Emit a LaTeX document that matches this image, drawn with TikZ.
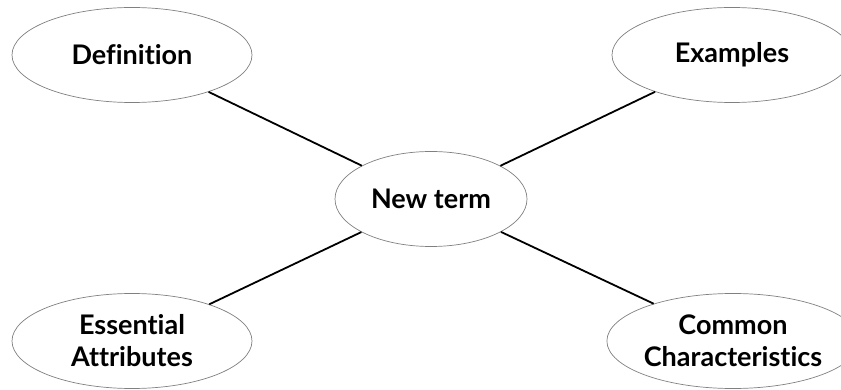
\documentclass[tikz,border=0pt]{standalone}
\usepackage{fontspec}
\setmainfont{Lato}[Ligatures={NoCommon}]
\usepackage{tikz}
\usetikzlibrary{shapes.geometric}
\tikzset{
  bubble/.style={ellipse, draw=black!50, line width=0.7pt, fill=white, inner sep=0pt,
    minimum width=240pt, minimum height=95pt, align=center,
    font=\fontsize{27}{32}\selectfont\bfseries},
  spoke/.style={line width=1.8pt, black}
}
\begin{document}
\begin{tikzpicture}[x=1pt, y=-1pt]
		%%%%% START %%%%%
		\useasboundingbox (0, 0) rectangle (841, 390);
		\clip (0, 0) rectangle (841, 390);
		
		\node[bubble, minimum width=192pt] (term) at (431, 199) {New term};
		
		\node[bubble] (definition) at (132, 55) {Definition};
		\node[bubble] (examples) at (732, 55) {Examples};
		\node[bubble] (attributes) at (132, 341) {Essential\\Attributes};
		\node[bubble] (characteristics) at (733, 341) {Common\\Characteristics};
		
		\draw[spoke] (definition) -- (term);
		\draw[spoke] (examples) -- (term);
		\draw[spoke] (attributes) -- (term);
		\draw[spoke] (characteristics) -- (term);
		
		%%%%% END %%%%%
	\end{tikzpicture}
\end{document}
